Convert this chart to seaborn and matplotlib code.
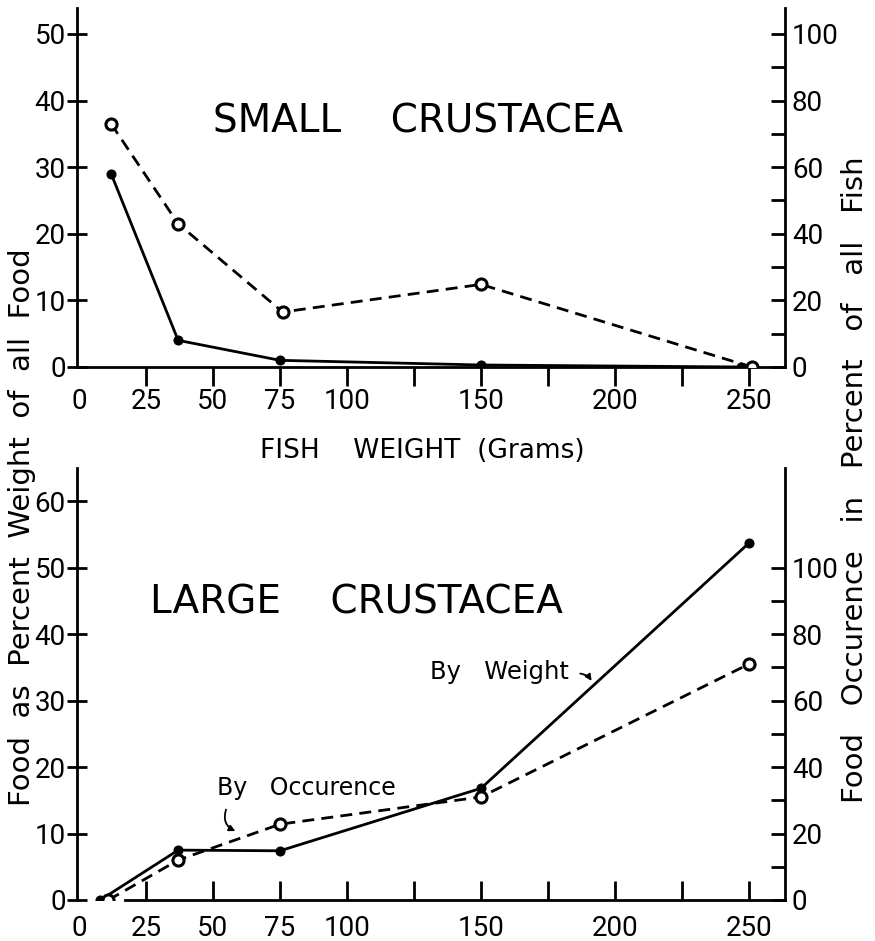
import matplotlib
matplotlib.use("Agg")
import matplotlib.pyplot as plt
import seaborn as sns
from matplotlib.ticker import FixedLocator

# ---------------- data ----------------
small_weight_x = [12, 37, 75, 150, 247]
small_weight_pct = [29, 4, 1, 0.3, 0]          # left axis: % weight of all food
small_occ_x = [12, 37, 76, 150, 251]
small_occ_pct = [73, 43, 16.5, 24.8, 0]        # right axis: % occurrence in all fish

large_weight_x = [8, 37, 75, 150, 250]
large_weight_pct = [0, 7.5, 7.4, 16.8, 53.7]
large_occ_x = [11, 37, 75, 150, 250]
large_occ_pct = [0, 12, 22.8, 31, 71]

x_label_pos = [0, 25, 50, 75, 100, 150, 200, 250]
x_label_txt = ["0", "25", "50", "75", "100", "150", "200", "250"]
x_tick_marks = [25, 50, 75, 100, 125, 150, 175, 200, 225, 250]

small_left_ticks = [0, 10, 20, 30, 40, 50]
small_right_ticks = [0, 20, 40, 60, 80, 100]
large_left_ticks = [0, 10, 20, 30, 40, 50, 60]
large_right_ticks = [0, 20, 40, 60, 80, 100]
right_minor_ticks = [10, 30, 50, 70, 90]

title_small = "SMALL    CRUSTACEA"
title_large = "LARGE    CRUSTACEA"
x_title = "FISH    WEIGHT  (Grams)"
left_title = "Food  as  Percent  Weight  of  all  Food"
right_title = "Food   Occurence   in   Percent   of   all   Fish"

# ---------------- style ----------------
sns.set_theme(style="ticks")
plt.rcParams["font.family"] = ["Roboto", "DejaVu Sans"]
for k in ["text.color", "axes.labelcolor", "xtick.color", "ytick.color", "axes.edgecolor"]:
    plt.rcParams[k] = "black"

fig = plt.figure(figsize=(8.75, 9.41), dpi=100)
fig.patch.set_facecolor("white")

XLIM = (-0.75, 263.4)
LW = 2.0
DASH = (0, (4.3, 2.6))
WIDE = ["DejaVu Sans"]


def style_axes(ax, ax2, left_ticks, right_ticks, ylim, x_dir, x_pad):
    ax.set_xlim(*XLIM)
    ax.set_ylim(*ylim)
    ax2.set_ylim(ylim[0] * 2, ylim[1] * 2)
    ax.spines["top"].set_visible(False)
    ax.spines["right"].set_visible(False)
    for s in ["top", "left", "bottom"]:
        ax2.spines[s].set_visible(False)
    for s in ["left", "bottom"]:
        ax.spines[s].set_linewidth(LW)
    ax2.spines["right"].set_linewidth(LW)
    ax.set_facecolor("none")
    ax.xaxis.remove_overlapping_locs = False
    ax.xaxis.set_major_locator(FixedLocator(x_label_pos))
    ax.set_xticklabels(x_label_txt)
    ax.xaxis.set_minor_locator(FixedLocator(x_tick_marks))
    ax.tick_params(axis="x", which="major", length=0, pad=x_pad, labelsize=20)
    ax.tick_params(axis="x", which="minor", direction=x_dir, length=14, width=LW)
    ax.set_yticks(left_ticks)
    ax.tick_params(axis="y", which="major", direction="inout", length=14, width=LW,
                   pad=1, labelsize=20)
    ax2.yaxis.set_major_locator(FixedLocator(right_ticks))
    ax2.yaxis.set_minor_locator(FixedLocator(right_minor_ticks))
    ax2.tick_params(axis="y", which="both", direction="in", length=10, width=LW,
                    pad=5, labelsize=20)
    ax.set_xlabel("")
    ax.set_ylabel("")
    ax2.set_ylabel("")


def draw_series(ax, ax2, wx, wy, ox, oy):
    sns.lineplot(x=wx, y=wy, ax=ax, color="black", lw=LW, marker="o",
                 markersize=6.5, markerfacecolor="black", markeredgecolor="black",
                 estimator=None, sort=False, zorder=3)
    sns.lineplot(x=ox, y=oy, ax=ax2, color="black", lw=LW, linestyle=DASH,
                 marker="o", markersize=8, markerfacecolor="white",
                 markeredgecolor="black", markeredgewidth=2.2,
                 estimator=None, sort=False, zorder=4)


# ---------------- top panel ----------------
ax_t = fig.add_axes([0.088, 0.610, 0.809, 0.3815])
ax_t2 = ax_t.twinx()
draw_series(ax_t, ax_t2, small_weight_x, small_weight_pct, small_occ_x, small_occ_pct)
style_axes(ax_t, ax_t2, small_left_ticks, small_right_ticks, (0, 53.9), "out", 15)
ax_t.text(126.5, 36.8, title_small, ha="center", va="center", fontsize=28, family=WIDE)

# ---------------- bottom panel ----------------
ax_b = fig.add_axes([0.088, 0.0436, 0.809, 0.4591])
ax_b2 = ax_b.twinx()
draw_series(ax_b, ax_b2, large_weight_x, large_weight_pct, large_occ_x, large_occ_pct)
style_axes(ax_b, ax_b2, large_left_ticks, large_right_ticks, (0, 65), "in", 11)
ax_b.spines["bottom"].set_bounds(17, XLIM[1])
ax_b.text(103.7, 44.7, title_large, ha="center", va="center", fontsize=28, family=WIDE)

ax_b.text(84.7, 16.8, "By   Occurence", ha="center", va="center", fontsize=17, family=WIDE)
ax_b.annotate("", xy=(59.3, 10.2), xytext=(55.2, 14.0),
              arrowprops=dict(arrowstyle="-|>", connectionstyle="arc3,rad=0.5",
                              color="black", lw=1.3, mutation_scale=9))
ax_b.text(157, 34.3, "By   Weight", ha="center", va="center", fontsize=17.5, family=WIDE)
ax_b.annotate("", xy=(191.8, 32.6), xytext=(186, 34.1),
              arrowprops=dict(arrowstyle="-|>", connectionstyle="arc3,rad=-0.3",
                              color="black", lw=1.3, mutation_scale=9))

# ---------------- shared labels ----------------
fig.text(422 / 875, 1 - 451 / 941, x_title, ha="center", va="center", fontsize=19,
         family=WIDE)
fig.text(22 / 875, 1 - 527 / 941, left_title, ha="center", va="center",
         rotation=90, fontsize=21, family=WIDE)
fig.text(855 / 875, 1 - 480 / 941, right_title, ha="center", va="center",
         rotation=90, fontsize=21, family=WIDE)

fig.savefig("out.png", dpi=100, facecolor="white")
